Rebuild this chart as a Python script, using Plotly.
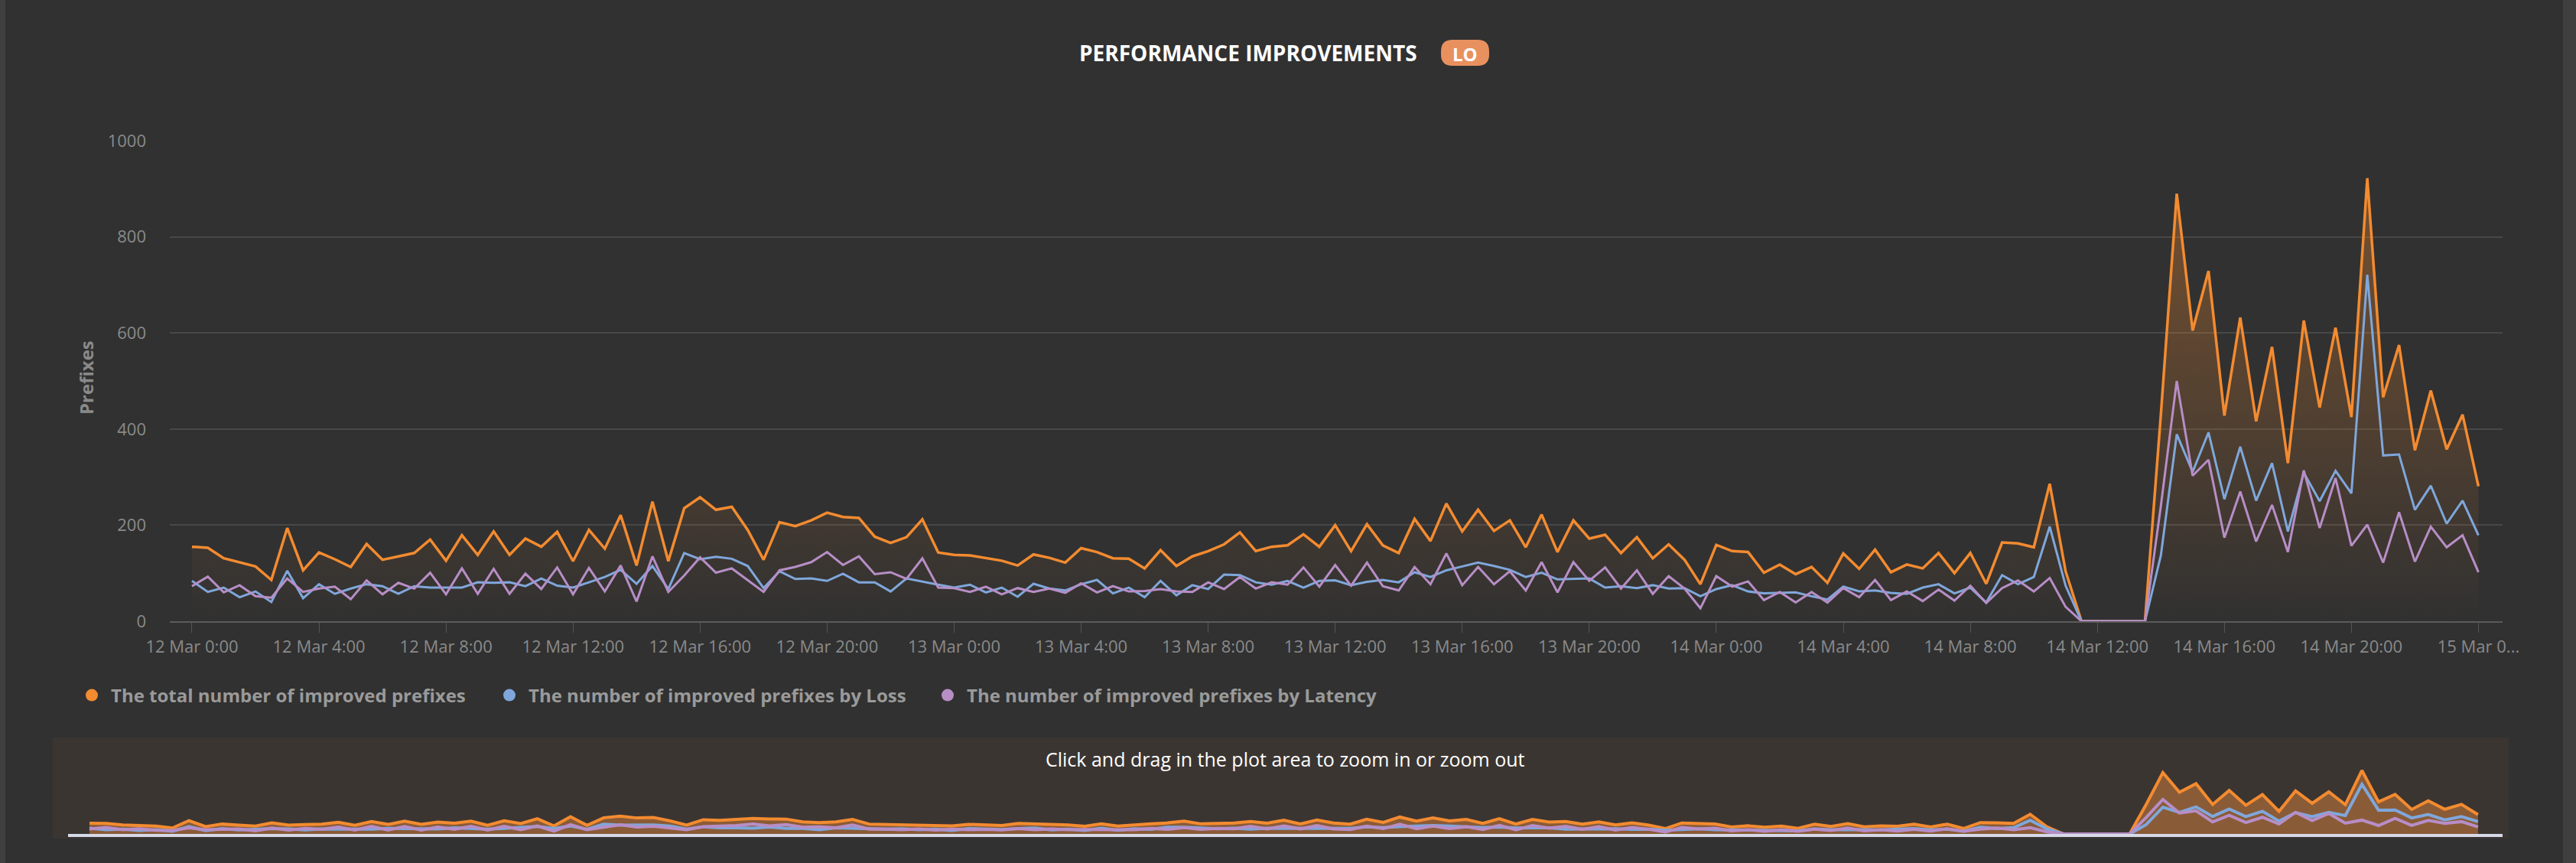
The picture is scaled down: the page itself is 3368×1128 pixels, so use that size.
import pandas as pd
import plotly.graph_objects as go

# ---------------- data ----------------
start_time = "2025-03-12 00:00"
n_points = 145  # every 30 minutes, 12 Mar 0:00 -> 15 Mar 0:00
times = pd.date_range(start_time, periods=n_points, freq="30min")

total_improved = [
    155, 153, 131, 123, 114, 86, 194, 106, 143, 129, 113, 161, 128, 135, 142, 170, 126, 179,
    138, 187, 138, 172, 155, 186, 125, 190, 151, 221, 116, 249, 125, 235, 258, 232, 238, 190,
    128, 206, 198, 210, 226, 217, 215, 176, 163, 175, 212, 143, 138, 137, 131, 126, 116, 139,
    132, 122, 152, 144, 131, 130, 110, 148, 115, 135, 146, 160, 185, 146, 155, 158, 181, 155,
    200, 146, 202, 158, 142, 213, 167, 245, 187, 232, 188, 210, 154, 222, 144, 210, 172, 180,
    142, 175, 131, 160, 128, 77, 159, 146, 144, 101, 118, 98, 113, 80, 141, 109, 149, 102,
    118, 110, 142, 100, 142, 78, 164, 162, 154, 286, 104, 0, 0, 0, 0, 0, 430, 890,
    605, 729, 428, 632, 416, 571, 329, 626, 445, 611, 425, 922, 466, 575, 356, 480, 358, 430, 281,
]
by_loss = [
    84, 61, 70, 50, 62, 40, 105, 48, 77, 57, 68, 77, 73, 57, 73, 70, 70, 70,
    81, 80, 81, 73, 89, 74, 70, 81, 92, 107, 78, 115, 67, 142, 129, 134, 130, 115,
    69, 104, 88, 89, 84, 99, 81, 81, 62, 89, 82, 76, 70, 76, 60, 70, 51, 78,
    68, 64, 77, 86, 58, 70, 50, 84, 54, 75, 67, 97, 96, 81, 76, 84, 70, 84,
    85, 75, 82, 86, 81, 102, 92, 106, 114, 122, 115, 107, 92, 101, 87, 88, 89, 70,
    73, 69, 75, 68, 69, 52, 67, 75, 62, 58, 59, 60, 52, 45, 72, 62, 64, 59,
    57, 70, 77, 58, 70, 39, 96, 77, 92, 197, 74, 0, 0, 0, 0, 0, 137, 389,
    311, 393, 254, 363, 251, 329, 187, 309, 250, 313, 266, 721, 345, 347, 232, 282, 203, 251, 179,
]
by_latency = [
    73, 93, 60, 75, 52, 49, 89, 61, 68, 72, 46, 85, 56, 80, 68, 101, 56, 110,
    57, 109, 57, 99, 67, 112, 56, 111, 62, 116, 41, 135, 61, 95, 133, 101, 110, 85,
    61, 106, 113, 123, 144, 117, 135, 98, 102, 88, 131, 70, 69, 61, 72, 56, 69, 61,
    68, 59, 79, 60, 73, 62, 63, 67, 62, 61, 81, 67, 92, 68, 81, 76, 112, 72,
    117, 74, 122, 73, 64, 113, 77, 141, 75, 113, 77, 104, 64, 123, 60, 123, 84, 112,
    68, 106, 57, 94, 68, 27, 94, 72, 83, 44, 61, 39, 61, 39, 69, 50, 86, 44,
    62, 42, 66, 43, 74, 38, 69, 85, 62, 90, 30, 0, 0, 0, 0, 0, 240, 500,
    303, 336, 174, 270, 166, 242, 144, 314, 194, 298, 157, 201, 122, 227, 124, 197, 154, 179, 102,
]

series_names = [
    "The total number of improved prefixes",
    "The number of improved prefixes by Loss",
    "The number of improved prefixes by Latency",
]
series_colors = ["#F38B30", "#7FA7DB", "#B78EC6"]

tick_times = pd.date_range(start_time, periods=19, freq="4h")
tick_labels = [
    "12 Mar 0:00", "12 Mar 4:00", "12 Mar 8:00", "12 Mar 12:00", "12 Mar 16:00", "12 Mar 20:00",
    "13 Mar 0:00", "13 Mar 4:00", "13 Mar 8:00", "13 Mar 12:00", "13 Mar 16:00", "13 Mar 20:00",
    "14 Mar 0:00", "14 Mar 4:00", "14 Mar 8:00", "14 Mar 12:00", "14 Mar 16:00", "14 Mar 20:00",
    "15 Mar 0...",
]
y_ticks = [0, 200, 400, 600, 800, 1000]

# ---------------- figure ----------------
W, H = 3368, 1128
ML, MR, MT, MB = 69, 88, 184, 32
PW, PH = W - ML - MR, H - MT - MB


def px_x(p):
    return (p - ML) / PW


def px_y(p):
    return (H - MB - p) / PH


BG = "#313131"
FONT = "Open Sans"

fig = go.Figure()
all_series = [total_improved, by_loss, by_latency]
line_widths = [3.5, 3, 3]

# main chart
for i, (vals, name, col) in enumerate(zip(all_series, series_names, series_colors)):
    kw = {}
    if i == 0:
        kw = dict(
            fill="tozeroy",
            fillgradient=dict(
                type="vertical",
                colorscale=[[0, "rgba(243,139,48,0)"], [1, "rgba(243,139,48,0.36)"]],
                start=0,
                stop=922,
            ),
        )
    fig.add_trace(go.Scatter(
        x=times, y=vals, mode="lines", name=name, legendgroup=name, showlegend=False,
        line=dict(color=col, width=line_widths[i]), xaxis="x", yaxis="y", **kw))

# navigator
for i, (vals, name, col) in enumerate(zip(all_series, series_names, series_colors)):
    kw = {}
    if i == 0:
        kw = dict(fill="tozeroy", fillcolor="#8A5B37")
    fig.add_trace(go.Scatter(
        x=times, y=vals, mode="lines", name=name, legendgroup=name, showlegend=False,
        line=dict(color=col, width=4), xaxis="x2", yaxis="y2", hoverinfo="skip", **kw))

# legend entries (circle symbols), one legend each so they can be placed freely
legend_ids = ["legend", "legend2", "legend3"]
legend_circle_px = [120, 666, 1239]
for name, col, lid in zip(series_names, series_colors, legend_ids):
    fig.add_trace(go.Scatter(
        x=[None], y=[None], mode="markers", name=name, legendgroup=name, legend=lid,
        marker=dict(color=col, size=20, symbol="circle"), xaxis="x", yaxis="y"))

main_left = px_x(222)
main_right = px_x(3272)


def legend_cfg(cx):
    return dict(
        orientation="h", x=px_x(cx - 25), xanchor="left", y=px_y(909), yanchor="middle",
        font=dict(family=FONT, size=24, color="#9a9a9a", weight="bold"),
        itemwidth=40, bgcolor="rgba(0,0,0,0)", borderwidth=0,
    )


fig.update_layout(
    width=W, height=H,
    margin=dict(l=ML, r=MR, t=MT, b=MB, pad=0),
    paper_bgcolor=BG, plot_bgcolor="rgba(0,0,0,0)",
    font=dict(family=FONT, color="#8c8c8c", size=20),
    showlegend=True,
    legend=legend_cfg(legend_circle_px[0]),
    legend2=legend_cfg(legend_circle_px[1]),
    legend3=legend_cfg(legend_circle_px[2]),
    xaxis=dict(
        domain=[main_left, main_right],
        type="date",
        range=["2025-03-11 23:18:07", "2025-03-15 00:45:36"],
        tickvals=list(tick_times), ticktext=tick_labels,
        showgrid=False, zeroline=False,
        showline=True, linecolor="#5b5b5b", linewidth=2,
        ticks="outside", ticklen=13, tickcolor="#555555", tickwidth=1,
        tickfont=dict(family=FONT, size=22, color="#8a8a8a"),
        anchor="y",
    ),
    yaxis=dict(
        domain=[px_y(812), 1],
        range=[0, 1000],
        tickvals=y_ticks,
        showgrid=True, gridcolor="#484848", gridwidth=1.5,
        zeroline=False, showline=False,
        tickfont=dict(family=FONT, size=22, color="#8a8a8a"),
        ticklabelstandoff=30,
        anchor="x",
    ),
    xaxis2=dict(
        domain=[px_x(89), px_x(3272)],
        type="date",
        range=["2025-03-11 23:21:16", "2025-03-15 00:44:24"],
        showticklabels=False, showgrid=False, zeroline=False,
        showline=True, linecolor="#D6D9E8", linewidth=4,
        anchor="y2",
    ),
    yaxis2=dict(
        domain=[px_y(1090), px_y(1000)],
        range=[0, 1000],
        showticklabels=False, showgrid=False, zeroline=False, showline=False,
        anchor="x2",
    ),
    hovermode="x unified",
)

shapes = [
    # side strips
    dict(type="rect", xref="paper", yref="paper", x0=px_x(0), x1=px_x(7), y0=px_y(H), y1=px_y(0),
         fillcolor="#3f3f3f", line=dict(width=0), layer="below"),
    dict(type="rect", xref="paper", yref="paper", x0=px_x(3351), x1=px_x(W), y0=px_y(H), y1=px_y(0),
         fillcolor="#3f3f3f", line=dict(width=0), layer="below"),
    # navigator panel
    dict(type="rect", xref="paper", yref="paper", x0=px_x(69), x1=px_x(3280), y0=px_y(1096), y1=px_y(964),
         fillcolor="#3B3532", line=dict(width=0), layer="below"),
]
# badge (rounded rect in pixels)
bw, bh, r = 31.5, 17, 15
badge_path = (
    f"M {-bw + r},{-bh} L {bw - r},{-bh} Q {bw},{-bh} {bw},{-bh + r} "
    f"L {bw},{bh - r} Q {bw},{bh} {bw - r},{bh} L {-bw + r},{bh} Q {-bw},{bh} {-bw},{bh - r} "
    f"L {-bw},{-bh + r} Q {-bw},{-bh} {-bw + r},{-bh} Z"
)
shapes.append(dict(
    type="path", xref="paper", yref="paper", xsizemode="pixel", ysizemode="pixel",
    xanchor=px_x(1915.5), yanchor=px_y(69), path=badge_path,
    fillcolor="#E8915F", line=dict(width=0), layer="above"))
fig.update_layout(shapes=shapes)

fig.add_annotation(
    text="PERFORMANCE IMPROVEMENTS", xref="paper", yref="paper",
    x=px_x(1632), y=px_y(69), showarrow=False, xanchor="center", yanchor="middle",
    font=dict(family=FONT, size=28, color="#ffffff", weight="bold"))
fig.add_annotation(
    text="LO", xref="paper", yref="paper",
    x=px_x(1915.5), y=px_y(70), showarrow=False, xanchor="center", yanchor="middle",
    font=dict(family=FONT, size=24, color="#ffffff", weight="bold"))
fig.add_annotation(
    text="Prefixes", xref="paper", yref="paper", textangle=-90,
    x=px_x(112), y=px_y(494), showarrow=False, xanchor="center", yanchor="middle",
    font=dict(family=FONT, size=24, color="#8a8a8a", weight="bold"))
fig.add_annotation(
    text="Click and drag in the plot area to zoom in or zoom out", xref="paper", yref="paper",
    x=px_x(1680), y=px_y(992), showarrow=False, xanchor="center", yanchor="middle",
    font=dict(family=FONT, size=25, color="#ffffff"))

fig.write_html(
    "out.html",
    config={"displayModeBar": False},
    post_script="document.body.style.margin='0';document.body.style.overflow='hidden';",
)
